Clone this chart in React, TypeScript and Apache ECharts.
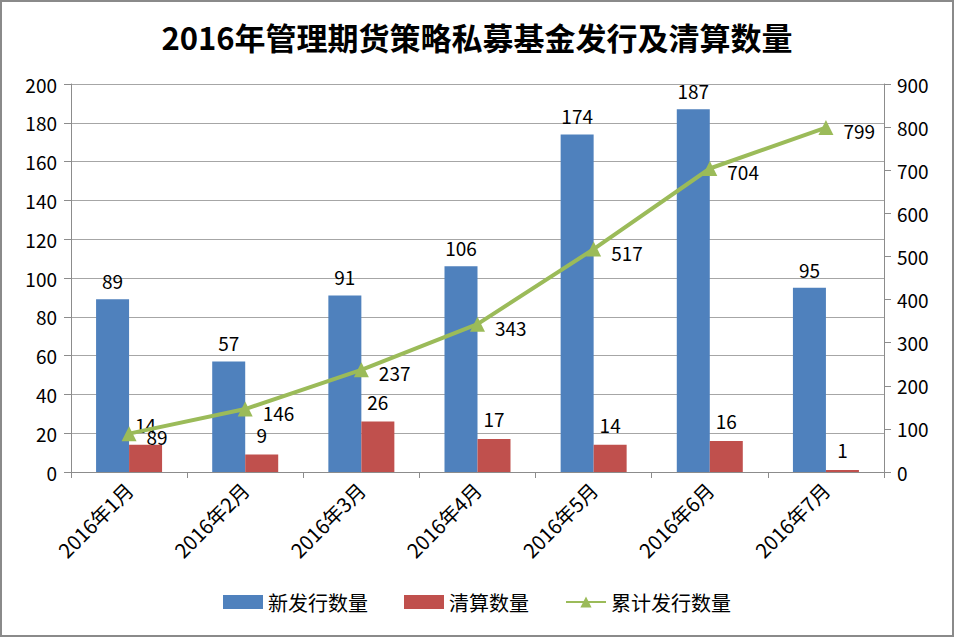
import React, { useEffect, useRef } from "react";
import * as echarts from "echarts";

const categories = ["2016年1月", "2016年2月", "2016年3月", "2016年4月", "2016年5月", "2016年6月", "2016年7月"];
const newIssued = [89, 57, 91, 106, 174, 187, 95];
const liquidated = [14, 9, 26, 17, 14, 16, 1];
const cumulative = [89, 146, 237, 343, 517, 704, 799];
const seriesNames = ["新发行数量", "清算数量", "累计发行数量"];
const titleText = "2016年管理期货策略私募基金发行及清算数量";

const FONT = "'Noto Sans CJK SC', 'Noto Sans', sans-serif";

export default function App() {
  const ref = useRef<HTMLDivElement>(null);
  useEffect(() => {
    document.body.style.margin = "0";
    const chart = echarts.init(ref.current!, null, { renderer: "svg" });
    const axisLine = { show: true, lineStyle: { color: "#8c8c8c", width: 1 } };
    const labelStyle = { fontSize: 19, color: "#000", fontFamily: FONT };
    chart.setOption({
      animation: false,
      backgroundColor: "#fff",
      textStyle: { fontFamily: FONT },
      title: {
        text: titleText,
        left: "center",
        top: 14,
        textStyle: { fontSize: 31, fontWeight: "bold", color: "#000", fontFamily: FONT },
      },
      legend: {
        bottom: 18,
        left: "center",
        itemGap: 36,
        itemWidth: 40,
        itemHeight: 14,
        textStyle: { fontSize: 20, color: "#000", fontFamily: FONT },
        data: [
          { name: seriesNames[0], icon: "rect" },
          { name: seriesNames[1], icon: "rect" },
          { name: seriesNames[2] },
        ],
      },
      grid: { left: 69, right: 68, top: 82, bottom: 163 },
      xAxis: {
        type: "category",
        data: categories,
        axisLine,
        axisTick: { show: true, length: 6, lineStyle: { color: "#8c8c8c" } },
        axisLabel: { rotate: 45, fontSize: 20, color: "#000", margin: 14, fontFamily: FONT },
      },
      yAxis: [
        {
          type: "value",
          min: 0,
          max: 200,
          interval: 20,
          axisLine,
          axisTick: { show: true, length: 7, lineStyle: { color: "#8c8c8c" } },
          splitLine: { lineStyle: { color: "#a6a6a6" } },
          axisLabel: { fontSize: 19, color: "#000", margin: 14, fontFamily: FONT },
        },
        {
          type: "value",
          min: 0,
          max: 900,
          interval: 100,
          axisLine,
          axisTick: { show: true, length: 7, lineStyle: { color: "#8c8c8c" } },
          splitLine: { show: false },
          axisLabel: { fontSize: 19, color: "#000", margin: 13, fontFamily: FONT },
        },
      ],
      series: [
        {
          name: seriesNames[0],
          type: "bar",
          data: newIssued,
          barWidth: 33,
          barGap: "0%",
          itemStyle: { color: "#4f81bd" },
          label: { show: true, position: "top", distance: 9, ...labelStyle },
        },
        {
          name: seriesNames[1],
          type: "bar",
          data: liquidated,
          barWidth: 33,
          barGap: "0%",
          itemStyle: { color: "#c0504d" },
          label: { show: true, position: "top", distance: 11, ...labelStyle },
        },
        {
          name: seriesNames[2],
          type: "line",
          yAxisIndex: 1,
          data: cumulative,
          symbol: "triangle",
          symbolSize: 15,
          lineStyle: { color: "#9bbb59", width: 4 },
          itemStyle: { color: "#9bbb59" },
          label: { show: true, position: "right", distance: 10, offset: [0, 3], ...labelStyle },
        },
      ],
    });
    return () => chart.dispose();
  }, []);
  return (
    <div
      style={{
        position: "absolute",
        left: 0,
        top: 0,
        width: 954,
        height: 637,
        boxSizing: "border-box",
        border: "2px solid #8a8a8a",
        background: "#fff",
      }}
    >
      <div ref={ref} style={{ width: 950, height: 633 }} />
    </div>
  );
}
